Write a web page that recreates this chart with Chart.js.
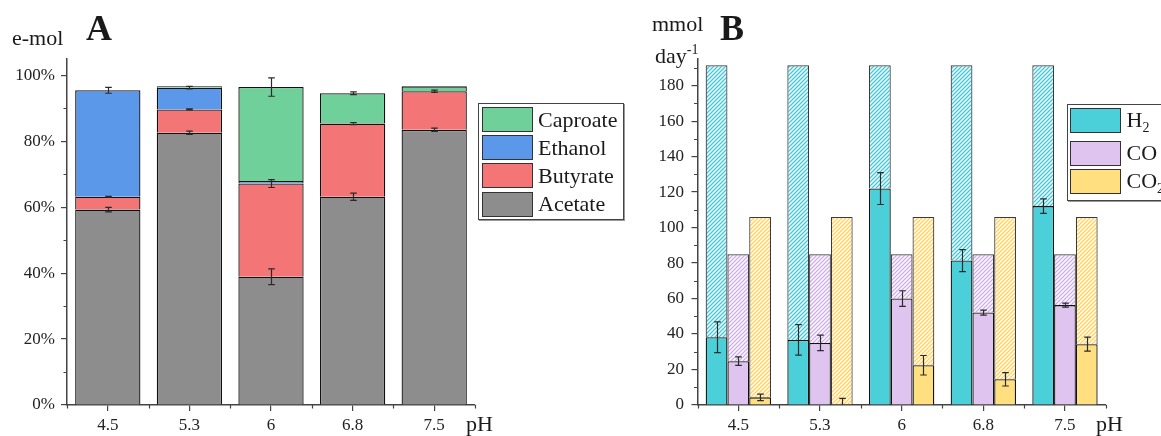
<!DOCTYPE html>
<html>
<head>
<meta charset="utf-8">
<script src="https://cdn.jsdelivr.net/npm/chart.js@4.4.1/dist/chart.umd.min.js"></script>
<style>
  body { margin: 0; background: #fff; width: 1161px; height: 436px; overflow: hidden; position: relative;
         font-family: "Liberation Serif", "Times New Roman", serif; color: #1a1a1a; }
  canvas { position: absolute; top: 0; }
  #chartA { left: 0; }
  #chartB { left: 600px; }
  .lbl { position: absolute; white-space: nowrap; line-height: 1; font-size: 22px; }
  .big { font-size: 36px; font-weight: bold; }
  .legend { position: absolute; border: 1px solid #444; box-shadow: 1px 1px 0 #999; background: #fff;
            font-size: 22px; box-sizing: content-box; }
  .legend .row { display: flex; align-items: center; height: 25px; }
  .legend .sw { width: 49px; height: 23px; border: 1px solid #333; flex: none; }
  .legend sub { font-size: 14px; vertical-align: -5px; line-height: 0; }
  sup { font-size: 14px; vertical-align: 9px; line-height: 0; }
</style>
</head>
<body>
<canvas id="chartA" width="600" height="436"></canvas>
<canvas id="chartB" width="561" height="436"></canvas>

<div class="lbl" style="left:12px;top:27px">e-mol</div>
<div class="lbl big" style="left:86px;top:10px">A</div>
<div class="lbl" style="left:466px;top:413px">pH</div>

<div class="lbl" style="left:652px;top:13px">mmol</div>
<div class="lbl big" style="left:720px;top:10px">B</div>
<div class="lbl" style="left:655px;top:45px">day<sup>-1</sup></div>
<div class="lbl" style="left:1096px;top:413px">pH</div>

<div class="legend" id="legendA" style="left:478px;top:103px;width:141px;padding:3px 0 2px 3px"></div>
<div class="legend" id="legendB" style="left:1067px;top:104px;width:120px;padding:2.5px 0 6px 1.5px"></div>

<script>
// ─── Дані ────────────────────────────────────────────────────────────────────
const phLabels = ["4.5", "5.3", "6", "6.8", "7.5"];

// A: частка e-mol, %
const acetate  = [59.3, 82.6, 38.9, 63.2, 83.5];
const butyrate = [3.9, 7.1, 28.3, 22.2, 11.7];
const ethanol  = [32.3, 6.6, 0.8, 0, 0];
const caproate = [0, 0.4, 28.5, 9.2, 1.5];
const acetateErr  = [0.7, 0.5, 2.4, 1.1, 0.5];
const butyrateErr = [0.15, 0.15, 1.2, 0.3, 0.35];
const ethanolErr  = [0.9, 0.4, null, null, null];
const caproateErr = [null, null, 2.8, 0.4, null];

// B: швидкість, mmol/day
const h2Rate  = [38.2, 36.7, 122.0, 81.4, 112.1];
const coRate  = [24.7, 35.0, 60.0, 52.1, 56.3];
const co2Rate = [4.3, 0.4, 22.4, 14.5, 34.3];
const h2Err  = [8.7, 8.6, 9.0, 6.2, 4.1];
const coErr  = [2.4, 4.4, 4.4, 1.4, 1.1];
const co2Err = [1.8, 3.3, 5.5, 3.8, 3.9];
const h2Supply  = [191.5, 191.5, 191.5, 191.5, 191.5];
const coSupply  = [85, 85, 85, 85, 85];
const co2Supply = [106, 106, 106, 106, 106];

const FONT = "Liberation Serif";
const AXIS = "#444";

// ─── Штрихування ─────────────────────────────────────────────────────────────
function hatch(color, width) {
  const c = document.createElement("canvas");
  c.width = 4; c.height = 4;
  const g = c.getContext("2d");
  g.fillStyle = "#fff";
  g.fillRect(0, 0, 4, 4);
  g.strokeStyle = color;
  g.lineWidth = width;
  g.beginPath();
  g.moveTo(-1, 5); g.lineTo(5, -1);
  g.moveTo(-1, 1); g.lineTo(1, -1);
  g.moveTo(3, 5); g.lineTo(5, 3);
  g.stroke();
  return g.createPattern(c, "repeat");
}

// ─── Плагіни: похибки і дрібні засічки ──────────────────────────────────────
const errorBars = {
  id: "errorBars",
  afterDatasetsDraw(chart) {
    const { ctx, chartArea, scales: { y } } = chart;
    ctx.save();
    ctx.beginPath();
    ctx.rect(chartArea.left, chartArea.top - 10, chartArea.width, chartArea.height + 10);
    ctx.clip();
    ctx.strokeStyle = "#2a2a2a";
    ctx.lineWidth = 1.2;
    chart.data.datasets.forEach((ds, di) => {
      if (!ds.errors) return;
      chart.getDatasetMeta(di).data.forEach((bar, i) => {
        const e = ds.errors[i];
        if (e == null) return;
        const v = y.getValueForPixel(bar.y);
        const top = y.getPixelForValue(v + e);
        const bot = y.getPixelForValue(v - e);
        const x = Math.round(bar.x) + 0.5;
        ctx.beginPath();
        ctx.moveTo(x, top); ctx.lineTo(x, bot);
        ctx.moveTo(x - 3.3, top); ctx.lineTo(x + 3.3, top);
        ctx.moveTo(x - 3.3, bot); ctx.lineTo(x + 3.3, bot);
        ctx.stroke();
      });
    });
    ctx.restore();
  }
};

const minorTicks = {
  id: "minorTicks",
  afterDraw(chart, args, opts) {
    const { ctx, scales: { x, y } } = chart;
    ctx.save();
    ctx.strokeStyle = AXIS;
    ctx.lineWidth = 1.2;
    ctx.beginPath();
    for (let v = opts.step / 2; v < y.max; v += opts.step) {
      const py = Math.round(y.getPixelForValue(v)) + 0.5;
      ctx.moveTo(y.right, py); ctx.lineTo(y.right - 3.5, py);
    }
    for (let i = 0; i <= phLabels.length; i++) {
      const px = Math.round(x.getPixelForValue(i - 0.5)) + 0.5;
      ctx.moveTo(px, x.top); ctx.lineTo(px, x.top + 3.5);
    }
    ctx.stroke();
    ctx.restore();
  }
};

function axes(yWidth, yMax, tickCb, yPad) {
  return {
    x: {
      stacked: true,
      grid: { offset: false, drawOnChartArea: false, tickLength: 6, tickColor: AXIS, lineWidth: 1.2 },
      border: { color: AXIS, width: 1.5 },
      ticks: { font: { family: FONT, size: 17 }, color: "#222", padding: 4, maxRotation: 0 },
      afterFit: s => { s.height = 31; }
    },
    y: {
      stacked: true,
      min: 0, max: yMax,
      grid: { drawOnChartArea: false, tickLength: 6, tickColor: AXIS, lineWidth: 1.2 },
      border: { color: AXIS, width: 1.5 },
      ticks: { stepSize: 20, includeBounds: false, font: { family: FONT, size: 17 }, color: "#222",
                padding: yPad, callback: tickCb },
      afterFit: s => { s.width = yWidth; }
    }
  };
}

// ─── A: склад продуктів ──────────────────────────────────────────────────────
const seriesA = [
  { label: "Acetate",  data: acetate,  errors: acetateErr,  color: "#8d8d8d" },
  { label: "Butyrate", data: butyrate, errors: butyrateErr, color: "#f37575" },
  { label: "Ethanol",  data: ethanol,  errors: ethanolErr,  color: "#5b98e9" },
  { label: "Caproate", data: caproate, errors: caproateErr, color: "#70d099" }
];

new Chart(document.getElementById("chartA"), {
  type: "bar",
  data: {
    labels: phLabels,
    datasets: seriesA.map(s => ({
      label: s.label, data: s.data, errors: s.errors,
      backgroundColor: s.color, borderColor: "#111", borderWidth: 1.3,
      categoryPercentage: 0.8, barPercentage: 1
    }))
  },
  options: {
    responsive: false,
    animation: false,
    layout: { padding: { left: 0, right: 125, top: 59, bottom: 0 } },
    plugins: { legend: { display: false }, tooltip: { enabled: false }, minorTicks: { step: 20 } },
    scales: axes(67, 105, v => v + "%", 6)
  },
  plugins: [errorBars, minorTicks]
});

// ─── B: споживання газів ─────────────────────────────────────────────────────
const seriesB = [
  { key: "h2",  label: "H<sub>2</sub>",  data: h2Rate,  errors: h2Err,  supply: h2Supply,
    color: "#4bcfd9", hatch: hatch("#3fc9d6", 1.3) },
  { key: "co",  label: "CO",  data: coRate,  errors: coErr,  supply: coSupply,
    color: "#dec4ee", hatch: hatch("#cfaee6", 1.3) },
  { key: "co2", label: "CO<sub>2</sub>", data: co2Rate, errors: co2Err, supply: co2Supply,
    color: "#ffdf80", hatch: hatch("#ffd35a", 1.4) }
];

// суцільний стовпчик = виміряне, штрихований зверху = до подачі газу
const datasetsB = [];
seriesB.forEach(s => {
  datasetsB.push({
    label: s.key, data: s.data, errors: s.errors, stack: s.key,
    backgroundColor: s.color, borderColor: "#111", borderWidth: 1.3,
    categoryPercentage: 0.8, barPercentage: 1
  });
  datasetsB.push({
    label: s.key + " supply", data: s.supply.map((v, i) => v - s.data[i]), stack: s.key,
    backgroundColor: s.hatch, borderColor: "#3a3a3a", borderWidth: 1.2,
    categoryPercentage: 0.8, barPercentage: 1
  });
});

new Chart(document.getElementById("chartB"), {
  type: "bar",
  data: { labels: phLabels, datasets: datasetsB },
  options: {
    responsive: false,
    animation: false,
    layout: { padding: { left: 0, right: 55.2, top: 59, bottom: 0 } },
    plugins: { legend: { display: false }, tooltip: { enabled: false }, minorTicks: { step: 20 } },
    scales: axes(97.5, 195, v => v, 7.5)
  },
  plugins: [errorBars, minorTicks]
});

// ─── Легенди ─────────────────────────────────────────────────────────────────
function legend(el, items, gaps, textGap) {
  el.innerHTML = items.map((it, i) =>
    `<div class="row" style="margin-bottom:${gaps[i]}px"><div class="sw" style="background:${it.color}"></div>` +
    `<span style="margin-left:${textGap}px">${it.label}</span></div>`).join("");
}
legend(document.getElementById("legendA"), [...seriesA].reverse(), [3.2, 3.2, 3.2, 0], 5);
legend(document.getElementById("legendB"), seriesB, [8, 3.3, 0], 6);
</script>
</body>
</html>
